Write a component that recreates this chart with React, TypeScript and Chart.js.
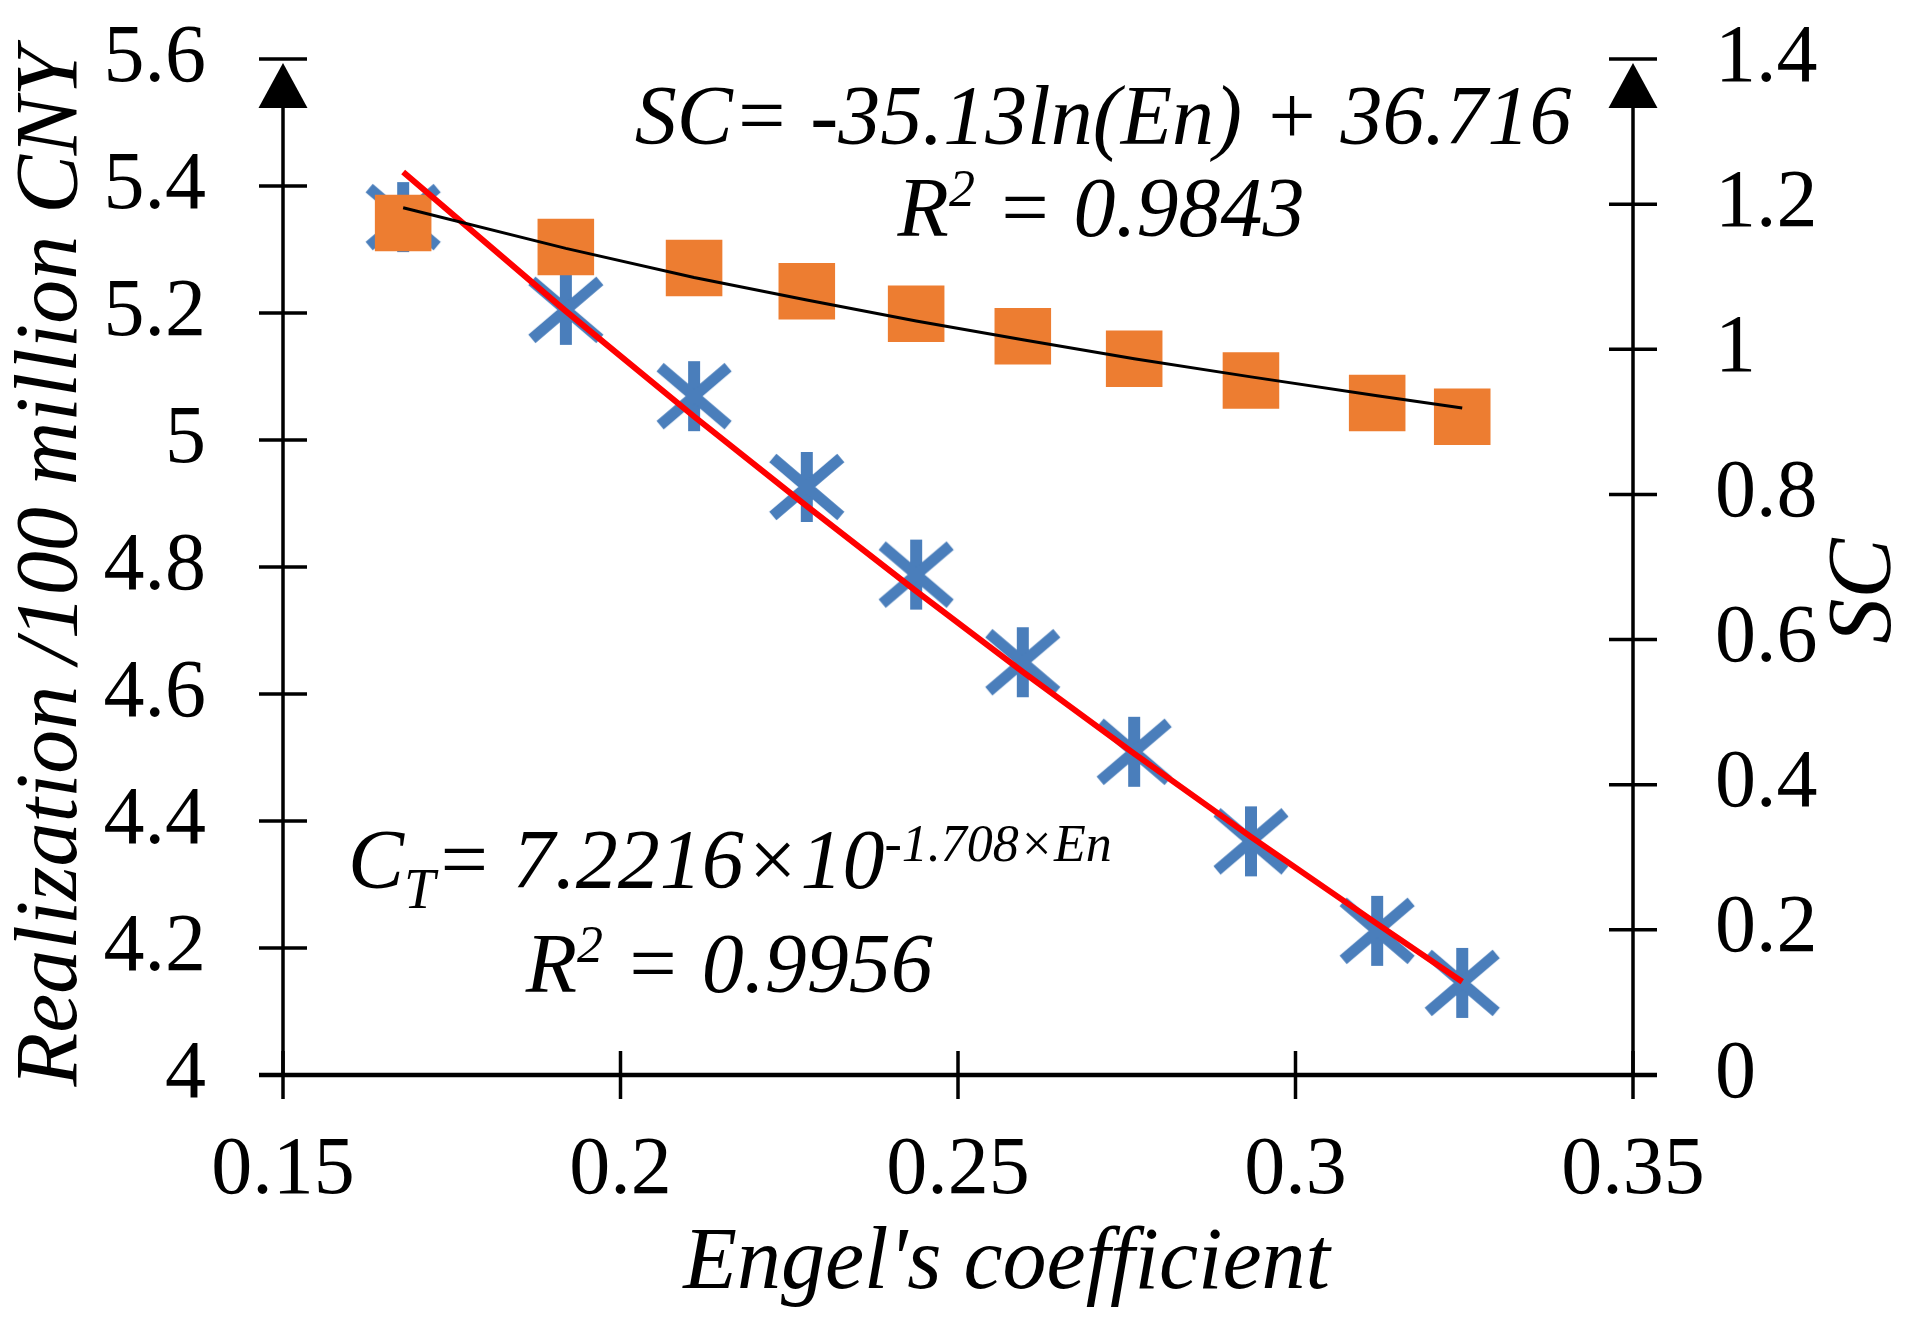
import React, { useEffect, useRef } from 'react';
import { Chart, registerables } from 'chart.js';

Chart.register(...registerables);

// ---- data ----
const engelCoefficient = [0.1678, 0.1919, 0.2109, 0.2276, 0.2438, 0.2596, 0.2761, 0.2934, 0.3121, 0.3247];
const realization = [5.351, 5.205, 5.069, 4.926, 4.788, 4.65, 4.509, 4.368, 4.227, 4.145];
const scValues = [1.174, 1.141, 1.112, 1.08, 1.049, 1.018, 0.987, 0.957, 0.926, 0.907];
const realizationTrend = [5.422, 5.203, 5.037, 4.896, 4.762, 4.635, 4.506, 4.375, 4.238, 4.147];
const scTrend = [1.195, 1.139, 1.099, 1.068, 1.039, 1.013, 0.987, 0.962, 0.936, 0.919];
const xTicks = [0.15, 0.2, 0.25, 0.3, 0.35];
const leftTicks = [4, 4.2, 4.4, 4.6, 4.8, 5, 5.2, 5.4, 5.6];
const rightTicks = [0, 0.2, 0.4, 0.6, 0.8, 1, 1.2, 1.4];

const xTitle = "Engel's coefficient";
const leftTitle = 'Realization /100 million CNY';
const rightTitle = 'SC';

const FONT = "'Liberation Serif', 'Times New Roman', serif";
const BLUE = '#4A7EBB';
const ORANGE = '#ED7D31';

function makeStar(): HTMLCanvasElement {
  const c = document.createElement('canvas');
  c.width = 82;
  c.height = 78;
  const g = c.getContext('2d')!;
  g.translate(41, 39);
  g.strokeStyle = BLUE;
  g.lineCap = 'butt';
  g.lineWidth = 12;
  g.beginPath();
  g.moveTo(0, -35);
  g.lineTo(0, 35);
  g.stroke();
  g.lineWidth = 11;
  g.beginPath();
  g.moveTo(-34, -29);
  g.lineTo(34, 29);
  g.moveTo(-34, 29);
  g.lineTo(34, -29);
  g.stroke();
  return c;
}

type Part = { text: string; size: number; dy?: number; w?: number };

function drawRich(ctx: CanvasRenderingContext2D, parts: Part[], cx: number, baseY: number) {
  let total = 0;
  parts.forEach((p) => {
    ctx.font = `italic ${p.size}px ${FONT}`;
    p.w = ctx.measureText(p.text).width;
    total += p.w;
  });
  let x = cx - total / 2;
  ctx.textAlign = 'left';
  ctx.textBaseline = 'alphabetic';
  parts.forEach((p) => {
    ctx.font = `italic ${p.size}px ${FONT}`;
    ctx.fillText(p.text, x, baseY + (p.dy || 0));
    x += p.w || 0;
  });
}

const axesPlugin = {
  id: 'axesDraw',
  beforeDatasetsDraw(chart: any) {
    const ctx: CanvasRenderingContext2D = chart.ctx;
    const xs = chart.scales.x;
    const yl = chart.scales.y;
    const yr = chart.scales.y1;
    const T = 24;
    const x0 = xs.getPixelForValue(xTicks[0]);
    const x1 = xs.getPixelForValue(xTicks[xTicks.length - 1]);
    const yb = yl.getPixelForValue(leftTicks[0]);
    const yt = yl.getPixelForValue(leftTicks[leftTicks.length - 1]);
    const line = (a: number, b: number, c: number, d: number) => {
      ctx.beginPath();
      ctx.moveTo(a, b);
      ctx.lineTo(c, d);
      ctx.stroke();
    };
    ctx.save();
    ctx.strokeStyle = '#000';
    ctx.fillStyle = '#000';
    ctx.lineCap = 'butt';
    ctx.lineWidth = 3.5;
    [x0, x1].forEach((ax) => {
      line(ax, yb, ax, yt + 40);
      ctx.beginPath();
      ctx.moveTo(ax, yt + 4);
      ctx.lineTo(ax - 24.5, yt + 49);
      ctx.lineTo(ax + 24.5, yt + 49);
      ctx.closePath();
      ctx.fill();
    });
    leftTicks.forEach((v) => {
      const y = yl.getPixelForValue(v);
      line(x0 - T, y, x0 + T, y);
    });
    rightTicks.forEach((v) => {
      const y = yr.getPixelForValue(v);
      line(x1 - T, y, x1 + T, y);
    });
    xTicks.forEach((v) => {
      const x = xs.getPixelForValue(v);
      line(x, yb - T, x, yb + T);
    });
    ctx.lineWidth = 4.5;
    line(x0 - T, yb, x1 + T, yb);
    ctx.restore();
  },
  afterDraw(chart: any) {
    const ctx: CanvasRenderingContext2D = chart.ctx;
    const xs = chart.scales.x;
    const yl = chart.scales.y;
    const area = chart.chartArea;
    ctx.save();
    ctx.fillStyle = '#000';

    // x axis title
    ctx.font = `italic 88px ${FONT}`;
    ctx.textAlign = 'center';
    ctx.textBaseline = 'alphabetic';
    ctx.fillText(xTitle, xs.getPixelForValue(0.2572), area.bottom + 213);

    // right axis title (reads bottom to top)
    ctx.save();
    ctx.font = `italic 90px ${FONT}`;
    ctx.translate(area.right + 233, (area.top + area.bottom) / 2 + 24);
    ctx.rotate(-Math.PI / 2);
    ctx.textBaseline = 'middle';
    ctx.fillText(rightTitle, 0, 0);
    ctx.restore();

    // regression equations
    drawRich(ctx, [{ text: 'SC= -35.13ln(En) + 36.716', size: 84 }], xs.getPixelForValue(0.2715), yl.getPixelForValue(5.466));
    drawRich(
      ctx,
      [
        { text: 'R', size: 84 },
        { text: '2', size: 52, dy: -30 },
        { text: ' = 0.9843', size: 84 },
      ],
      xs.getPixelForValue(0.2712),
      yl.getPixelForValue(5.3213)
    );
    drawRich(
      ctx,
      [
        { text: 'C', size: 84 },
        { text: 'T', size: 56, dy: 20 },
        { text: '= 7.2216×10', size: 84 },
        { text: '-1.708×En', size: 52, dy: -27 },
      ],
      xs.getPixelForValue(0.2162),
      yl.getPixelForValue(4.2945)
    );
    drawRich(
      ctx,
      [
        { text: 'R', size: 84 },
        { text: '2', size: 52, dy: -30 },
        { text: ' = 0.9956', size: 84 },
      ],
      xs.getPixelForValue(0.2161),
      yl.getPixelForValue(4.1307)
    );
    ctx.restore();
  },
};

export default function App() {
  const ref = useRef<HTMLCanvasElement | null>(null);

  useEffect(() => {
    if (!ref.current) return;
    const star = makeStar();
    const tickFont = { family: FONT, size: 82 };
    const fmt = (v: any) => String(Number(Number(v).toFixed(2)));
    const noPad = (s: any) => {
      s.paddingTop = 0;
      s.paddingBottom = 0;
      s.paddingLeft = 0;
      s.paddingRight = 0;
    };

    const chart = new Chart(ref.current, {
      type: 'scatter',
      data: {
        datasets: [
          {
            label: 'Realization',
            data: engelCoefficient.map((x, i) => ({ x, y: realization[i] })),
            yAxisID: 'y',
            pointStyle: star as any,
            pointRadius: 36,
            showLine: false,
            order: 4,
          },
          {
            label: 'SC',
            data: engelCoefficient.map((x, i) => ({ x, y: scValues[i] })),
            yAxisID: 'y1',
            pointStyle: 'rect',
            pointRadius: 40,
            backgroundColor: ORANGE,
            borderColor: ORANGE,
            borderWidth: 0,
            showLine: false,
            order: 3,
          },
          {
            label: 'Realization trend',
            data: engelCoefficient.map((x, i) => ({ x, y: realizationTrend[i] })),
            yAxisID: 'y',
            showLine: true,
            borderColor: '#FF0000',
            borderWidth: 6,
            pointRadius: 0,
            tension: 0,
            order: 2,
          },
          {
            label: 'SC trend',
            data: engelCoefficient.map((x, i) => ({ x, y: scTrend[i] })),
            yAxisID: 'y1',
            showLine: true,
            borderColor: '#000000',
            borderWidth: 3,
            pointRadius: 0,
            tension: 0,
            order: 1,
          },
        ],
      },
      options: {
        animation: false,
        responsive: false,
        devicePixelRatio: 1,
        events: [],
        layout: { padding: { top: 59, left: 0, right: 0, bottom: 0 } },
        plugins: { legend: { display: false }, tooltip: { enabled: false } },
        scales: {
          x: {
            type: 'linear',
            min: 0.15,
            max: 0.35,
            grid: { display: false, drawTicks: false },
            border: { display: false },
            afterBuildTicks: (s: any) => {
              s.ticks = xTicks.map((v) => ({ value: v }));
            },
            afterFit: (s: any) => {
              s.height = 261;
              noPad(s);
            },
            ticks: { font: tickFont, color: '#000', padding: 47, maxRotation: 0, autoSkip: false, callback: fmt },
          },
          y: {
            type: 'linear',
            position: 'left',
            min: 4,
            max: 5.6,
            grid: { display: false, drawTicks: false },
            border: { display: false },
            afterBuildTicks: (s: any) => {
              s.ticks = leftTicks.map((v) => ({ value: v }));
            },
            afterFit: (s: any) => {
              s.width = 283;
              noPad(s);
            },
            ticks: { font: tickFont, color: '#000', padding: 77, autoSkip: false, callback: fmt },
            title: {
              display: true,
              text: leftTitle,
              color: '#000',
              font: { family: FONT, size: 88, style: 'italic' },
              padding: 0,
            },
          },
          y1: {
            type: 'linear',
            position: 'right',
            min: 0,
            max: 1.4,
            grid: { display: false, drawTicks: false },
            border: { display: false },
            afterBuildTicks: (s: any) => {
              s.ticks = rightTicks.map((v) => ({ value: v }));
            },
            afterFit: (s: any) => {
              s.width = 278;
              noPad(s);
            },
            ticks: { font: tickFont, color: '#000', padding: 82, autoSkip: false, callback: fmt },
          },
        },
      },
      plugins: [axesPlugin],
    } as any);

    return () => chart.destroy();
  }, []);

  return (
    <div style={{ position: 'fixed', left: 0, top: 0, width: 1911, height: 1336, background: '#fff' }}>
      <canvas ref={ref} width={1911} height={1336} style={{ width: 1911, height: 1336, display: 'block' }} />
    </div>
  );
}
